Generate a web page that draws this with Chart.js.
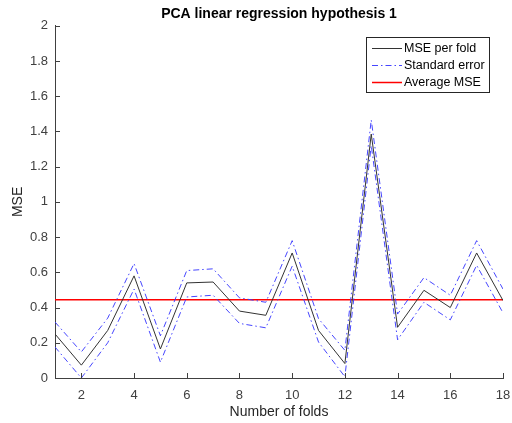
<!DOCTYPE html>
<html>
<head>
<meta charset="utf-8">
<script src="https://cdn.jsdelivr.net/npm/chart.js@4"></script>
<style>
  html, body { margin: 0; padding: 0; background: #fff; }
  #wrap { width: 512px; height: 423px; position: relative; }
</style>
</head>
<body>
<div id="wrap"><canvas id="chart"></canvas></div>
<script>
// folds 1..18
const folds = [1, 2, 3, 4, 5, 6, 7, 8, 9, 10, 11, 12, 13, 14, 15, 16, 17, 18];
const msePerFold = [0.25, 0.073, 0.27, 0.58, 0.165, 0.54, 0.545, 0.38, 0.356, 0.71, 0.27, 0.082, 1.385, 0.288, 0.498, 0.40, 0.71, 0.44];
const upperErr = [0.318, 0.148, 0.34, 0.65, 0.24, 0.61, 0.62, 0.455, 0.43, 0.78, 0.337, 0.157, 1.465, 0.363, 0.57, 0.47, 0.78, 0.505];
const lowerErr = [0.176, 0.0, 0.2, 0.505, 0.09, 0.46, 0.47, 0.31, 0.285, 0.635, 0.204, 0.007, 1.32, 0.217, 0.43, 0.33, 0.64, 0.37];
const averageMse = 0.444;
const xTicks = [2, 4, 6, 8, 10, 12, 14, 16, 18];
const yTicks = [0, 0.2, 0.4, 0.6, 0.8, 1, 1.2, 1.4, 1.6, 1.8, 2];

const FONT = "'Liberation Sans', Arial, sans-serif";
const AXIS_COLOR = "#404040";
const BLUE = "rgba(60, 60, 255, 0.95)";
const DASH_DOT = [6, 3, 1.5, 3];

const pts = (ys) => folds.map((x, i) => ({ x, y: ys[i] }));

// inward tick marks (MATLAB style)
const innerTicks = {
  id: "innerTicks",
  afterDraw(chart) {
    const { ctx, chartArea, scales } = chart;
    ctx.save();
    ctx.strokeStyle = AXIS_COLOR;
    ctx.lineWidth = 1;
    ctx.beginPath();
    xTicks.forEach((v) => {
      const px = Math.round(scales.x.getPixelForValue(v)) + 0.5;
      ctx.moveTo(px, chartArea.bottom);
      ctx.lineTo(px, chartArea.bottom - 5);
    });
    yTicks.forEach((v) => {
      const py = Math.round(scales.y.getPixelForValue(v)) + 0.5;
      ctx.moveTo(chartArea.left, py);
      ctx.lineTo(chartArea.left + 5, py);
    });
    ctx.stroke();
    ctx.restore();
  },
};

// boxed legend inside the plot, top right
const boxLegend = {
  id: "boxLegend",
  afterDraw(chart) {
    const { ctx } = chart;
    const entries = chart.data.datasets.filter((d) => d.inLegend);
    const left = 366.5, top = 37.5, w = 123, h = 55;
    ctx.save();
    ctx.fillStyle = "#fff";
    ctx.fillRect(left, top, w, h);
    ctx.strokeStyle = "#262626";
    ctx.lineWidth = 1;
    ctx.strokeRect(left, top, w, h);
    ctx.font = "12.5px " + FONT;
    ctx.textBaseline = "middle";
    entries.forEach((d, i) => {
      const y = Math.round(48 + i * 16.8) + 0.5;
      ctx.strokeStyle = d.borderColor;
      ctx.lineWidth = d.borderWidth;
      ctx.setLineDash(d.borderDash || []);
      ctx.beginPath();
      ctx.moveTo(372, y);
      ctx.lineTo(402, y);
      ctx.stroke();
      ctx.setLineDash([]);
      ctx.fillStyle = "#000";
      ctx.fillText(d.label, 404, y);
    });
    ctx.restore();
  },
};

new Chart(document.getElementById("chart"), {
  type: "line",
  data: {
    datasets: [
      {
        label: "MSE per fold",
        inLegend: true,
        data: pts(msePerFold),
        borderColor: "#333333",
        borderWidth: 1,
        pointRadius: 0,
        tension: 0,
      },
      {
        label: "Standard error",
        inLegend: true,
        data: pts(upperErr),
        borderColor: BLUE,
        borderWidth: 1,
        borderDash: DASH_DOT,
        pointRadius: 0,
        tension: 0,
      },
      {
        label: "Standard error (lower)",
        data: pts(lowerErr),
        borderColor: BLUE,
        borderWidth: 1,
        borderDash: DASH_DOT,
        pointRadius: 0,
        tension: 0,
      },
      {
        label: "Average MSE",
        inLegend: true,
        data: [{ x: folds[0], y: averageMse }, { x: folds[folds.length - 1], y: averageMse }],
        borderColor: "#ff0000",
        borderWidth: 1.5,
        pointRadius: 0,
      },
    ],
  },
  options: {
    responsive: true,
    maintainAspectRatio: false,
    animation: false,
    layout: { padding: { left: 0, right: 9, top: 0, bottom: 0 } },
    plugins: {
      legend: { display: false },
      tooltip: { enabled: false },
      title: {
        display: true,
        fullSize: false,
        text: "PCA linear regression hypothesis 1",
        color: "#000",
        font: { family: FONT, size: 14, weight: "bold" },
        padding: { top: 6, bottom: 3 },
      },
    },
    scales: {
      x: {
        type: "linear",
        min: 1,
        max: 18,
        afterBuildTicks: (scale) => {
          scale.ticks = xTicks.map((v) => ({ value: v }));
        },
        afterFit: (scale) => {
          scale.height = 45;
          scale.paddingLeft = 0;
          scale.paddingRight = 0;
        },
        grid: { display: false, drawTicks: false },
        border: { display: true, color: AXIS_COLOR, width: 1 },
        ticks: {
          color: AXIS_COLOR,
          font: { family: FONT, size: 13 },
          padding: 10,
          maxRotation: 0,
        },
        title: {
          display: true,
          text: "Number of folds",
          color: "#262626",
          font: { family: FONT, size: 14 },
          padding: { top: 0, bottom: 2 },
        },
      },
      y: {
        min: 0,
        max: 2,
        afterBuildTicks: (scale) => {
          scale.ticks = yTicks.map((v) => ({ value: v }));
        },
        afterFit: (scale) => {
          scale.width = 55;
        },
        grid: { display: false, drawTicks: false },
        border: { display: true, color: AXIS_COLOR, width: 1 },
        ticks: {
          color: AXIS_COLOR,
          font: { family: FONT, size: 13 },
          padding: 7,
          callback: (v) => String(Math.round(v * 10) / 10),
        },
        title: {
          display: true,
          text: "MSE",
          color: "#262626",
          font: { family: FONT, size: 14 },
          padding: { top: 10, bottom: 0 },
        },
      },
    },
  },
  plugins: [innerTicks, boxLegend],
});
</script>
</body>
</html>
